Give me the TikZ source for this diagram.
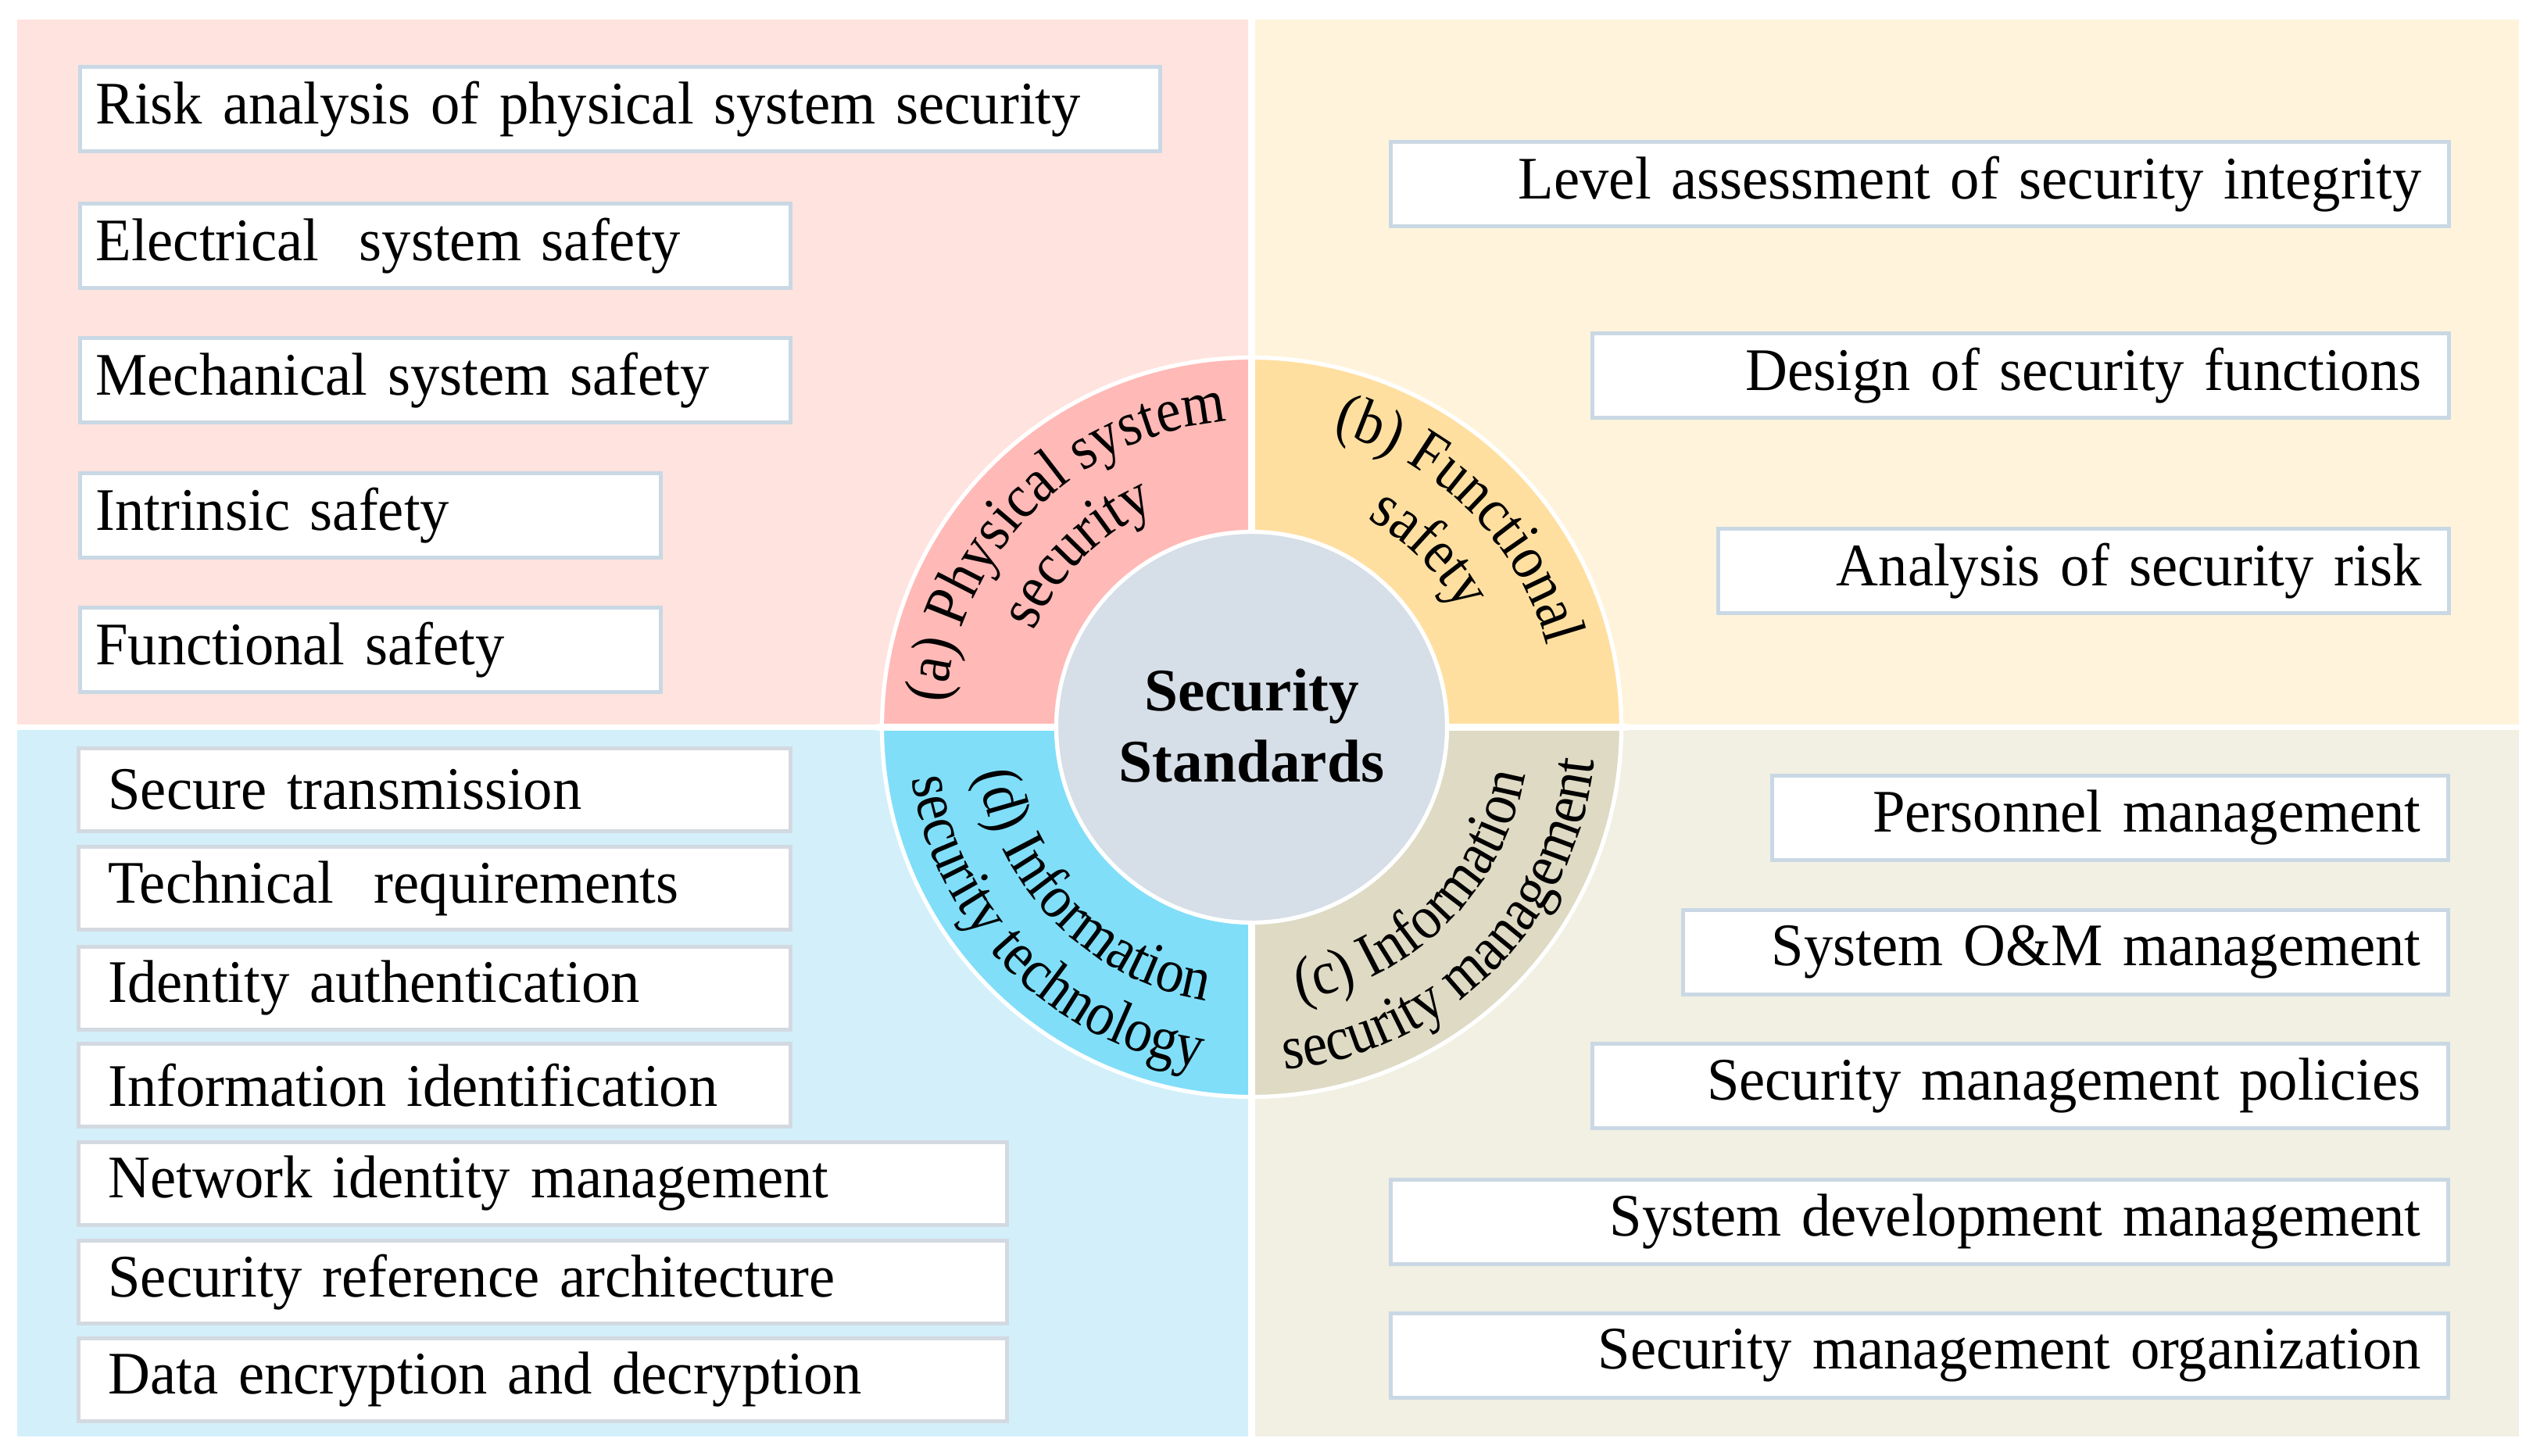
\documentclass[tikz,border=0pt]{standalone}
\usepackage{fontspec}
\setmainfont{Liberation Serif}
\newfontfamily\boxfam[FakeStretch=0.965]{Liberation Serif}
\newfontfamily\ringfam[FakeStretch=0.9]{Liberation Serif}
\usetikzlibrary{decorations.text}
\definecolor{panelA}{HTML}{FFE3DE}
\definecolor{panelB}{HTML}{FFF4DB}
\definecolor{panelC}{HTML}{F1F0E3}
\definecolor{panelD}{HTML}{D3F0FA}
\definecolor{ringA}{HTML}{FFB9B6}
\definecolor{ringB}{HTML}{FFDFA0}
\definecolor{ringC}{HTML}{DEDAC4}
\definecolor{ringD}{HTML}{80DEF8}
\definecolor{hub}{HTML}{D6DEE7}
\definecolor{boxline}{HTML}{C9D8E4}
\definecolor{boxlineB}{HTML}{D3D9E1}
\newcommand\ringfont{\ringfam\fontsize{22.5}{27}\selectfont}
\tikzset{
  itembox/.style={draw=boxline, line width=1.4pt, fill=white, font=\boxfam\fontsize{22}{26}\selectfont,
     minimum height=1.08cm, inner ysep=0pt},
  tlbox/.style={itembox, anchor=north west, inner xsep=0.2cm, align=left},
  blbox/.style={itembox, draw=boxlineB, anchor=north west, inner xsep=0.38cm, align=left, minimum height=1.06cm},
  rbox/.style={itembox, anchor=north east, inner xsep=0.35cm, align=right},
  ringtext/.style={decorate, decoration={text along path, text align=center, text={#1}}},
}
\begin{document}
\begin{tikzpicture}
\useasboundingbox (0,0) rectangle (32.41,-18.63);
\fill[white] (0,0) rectangle (32.41,-18.63);
% panels
\fill[panelA] (0.22,-0.25) rectangle (15.97,-9.27);
\fill[panelB] (16.06,-0.25) rectangle (32.23,-9.27);
\fill[panelD] (0.22,-9.34) rectangle (15.97,-18.38);
\fill[panelC] (16.06,-9.34) rectangle (32.23,-18.38);
\coordinate (C) at (16.015,-9.305);
% ring sectors
\fill[ringA] (C) -- ([shift={(90:4.73)}]C) arc[start angle=90, end angle=180, radius=4.73] -- cycle;
\fill[ringB] (C) -- ([shift={(0:4.73)}]C) arc[start angle=0, end angle=90, radius=4.73] -- cycle;
\fill[ringC] (C) -- ([shift={(270:4.73)}]C) arc[start angle=270, end angle=360, radius=4.73] -- cycle;
\fill[ringD] (C) -- ([shift={(180:4.73)}]C) arc[start angle=180, end angle=270, radius=4.73] -- cycle;
\draw[white, line width=1.5pt] (C) circle[radius=4.73];
\draw[white, line width=2.4pt] ([shift={(-4.8,0)}]C) -- ([shift={(4.8,0)}]C);
\draw[white, line width=2.4pt] ([shift={(0,-4.8)}]C) -- ([shift={(0,4.8)}]C);
\node[circle, fill=hub, draw=white, line width=1.5pt, minimum size=5.0cm] (hubc) at (C) {};
\node[align=center, font=\bfseries\fontsize{22}{26}\selectfont] (title) at ([yshift=0.02cm]C) {Security\\Standards};
% ring labels
\path[ringtext={|\ringfont|(a) Physical system}] ([shift={(180:3.92)}]C) arc[start angle=180, end angle=90, radius=3.92];
\path[ringtext={|\ringfont|security}] ([shift={(180:3.05)}]C) arc[start angle=180, end angle=90, radius=3.05];
\path[ringtext={|\ringfont|(b) Functional}] ([shift={(90:3.92)}]C) arc[start angle=90, end angle=0, radius=3.92];
\path[ringtext={|\ringfont|safety}] ([shift={(90:3.05)}]C) arc[start angle=90, end angle=0, radius=3.05];
\path[ringtext={|\ringfont|security management}] ([shift={(270:4.40)}]C) arc[start angle=270, end angle=360, radius=4.40];
\path[ringtext={|\ringfont|(c) Information}] ([shift={(270:3.55)}]C) arc[start angle=270, end angle=360, radius=3.55];
\path[ringtext={|\ringfont|security technology}] ([shift={(180:4.40)}]C) arc[start angle=180, end angle=270, radius=4.40];
\path[ringtext={|\ringfont|(d) Information}] ([shift={(180:3.55)}]C) arc[start angle=180, end angle=270, radius=3.55];
% top-left boxes
\node[tlbox, text width=13.42cm] (a1) at (1.00,-0.83) {Risk analysis of physical system security};
\node[tlbox, text width=8.69cm] (a2) at (1.00,-2.58) {Electrical\ \ system safety};
\node[tlbox, text width=8.69cm] (a3) at (1.00,-4.30) {Mechanical system safety};
\node[tlbox, text width=7.03cm] (a4) at (1.00,-6.03) {Intrinsic safety};
\node[tlbox, text width=7.03cm] (a5) at (1.00,-7.75) {Functional safety};
% top-right boxes
\node[rbox, text width=12.84cm] (b1) at (31.36,-1.79) {Level assessment of security integrity};
\node[rbox, text width=10.26cm] (b2) at (31.36,-4.24) {Design of security functions};
\node[rbox, text width=8.65cm] (b3) at (31.36,-6.74) {Analysis of security risk};
% bottom-left boxes
\node[blbox, text width=8.35cm] (d1) at (0.98,-9.55) {Secure transmission};
\node[blbox, text width=8.35cm] (d2) at (0.98,-10.81) {Technical\ \ requirements};
\node[blbox, text width=8.35cm] (d3) at (0.98,-12.09) {Identity authentication};
\node[blbox, text width=8.35cm] (d4) at (0.98,-13.33) {Information identification};
\node[blbox, text width=11.12cm] (d5) at (0.98,-14.59) {Network identity management};
\node[blbox, text width=11.12cm] (d6) at (0.98,-15.85) {Security reference architecture};
\node[blbox, text width=11.12cm] (d7) at (0.98,-17.10) {Data encryption and decryption};
% bottom-right boxes
\node[rbox, text width=7.95cm] (c1) at (31.35,-9.90) {Personnel management};
\node[rbox, text width=9.09cm] (c2) at (31.35,-11.62) {System O\&M management};
\node[rbox, text width=10.25cm] (c3) at (31.35,-13.33) {Security management policies};
\node[rbox, text width=12.83cm] (c4) at (31.35,-15.07) {System development management};
\node[rbox, text width=12.83cm] (c5) at (31.35,-16.78) {Security management organization};
\end{tikzpicture}
\end{document}
